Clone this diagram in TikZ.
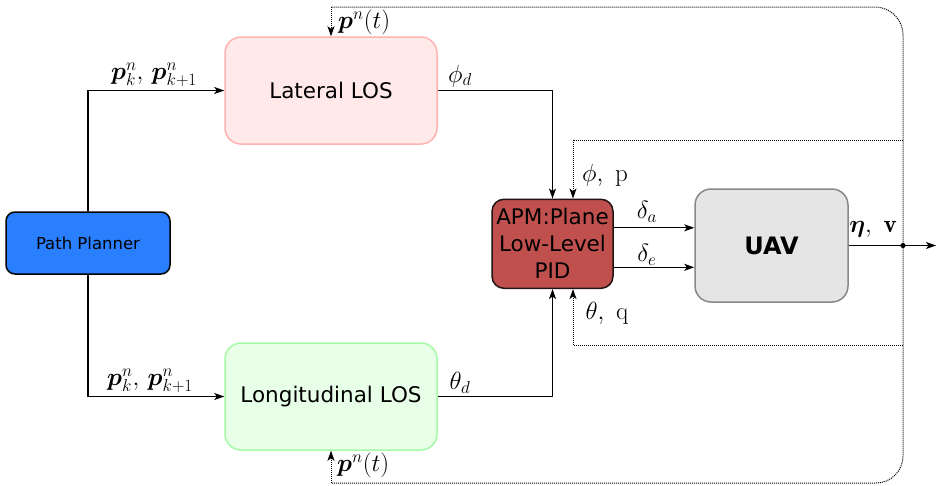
\documentclass[tikz,border=0pt]{standalone}
\usepackage{fontspec}
\newfontfamily\dejavu{DejaVu Sans}
\usepackage{bm}
\usetikzlibrary{arrows.meta}

\definecolor{ppblue}{RGB}{42,127,255}
\definecolor{latfill}{RGB}{255,233,233}
\definecolor{latdraw}{RGB}{255,178,178}
\definecolor{lonfill}{RGB}{232,255,232}
\definecolor{londraw}{RGB}{165,250,165}
\definecolor{apmfill}{RGB}{192,80,77}
\definecolor{apmdraw}{RGB}{35,20,20}
\definecolor{uavfill}{RGB}{229,229,229}
\definecolor{uavdraw}{RGB}{136,136,136}

\begin{document}
\begin{tikzpicture}[x=1pt,y=-1pt,
  block/.style={draw, line width=1.5pt, inner sep=0pt, align=center,
    font=\dejavu\fontsize{21.5}{27}\selectfont},
  lbl/.style={inner sep=0pt, font=\fontsize{25}{29}\selectfont},
  arr/.style={line width=1.2pt, -{Stealth[length=10pt,width=7pt,inset=2.5pt]}},
  fb/.style={line width=1pt, densely dotted},
  fbarr/.style={fb, -{Stealth[length=10pt,width=7pt,inset=2.5pt]}}]
\useasboundingbox (0,0) rectangle (937,485);

% blocks
\node[block, fill=ppblue, draw=black, rounded corners=9pt,
  minimum width=164pt, minimum height=62pt,
  font=\dejavu\fontsize{16.5}{20}\selectfont] (pp) at (88,243) {Path Planner};
\node[block, fill=latfill, draw=latdraw, rounded corners=16pt,
  minimum width=212pt, minimum height=107pt] (lat) at (331,90.5) {Lateral LOS};
\node[block, fill=lonfill, draw=londraw, rounded corners=16pt,
  minimum width=212pt, minimum height=107pt] (lon) at (331,396.5) {Longitudinal LOS};
\node[block, fill=apmfill, draw=apmdraw, rounded corners=12pt,
  minimum width=121pt, minimum height=89pt] (apm) at (552.5,243.8)
  {APM:Plane\\Low-Level\\PID};
\node[block, fill=uavfill, draw=uavdraw, rounded corners=16pt,
  minimum width=153pt, minimum height=113pt,
  font=\dejavu\bfseries\fontsize{24}{28}\selectfont] (uav) at (771.5,245.5) {UAV};

% helper rows
\coordinate (ytop) at (0,7);
\coordinate (ybot) at (0,483);
\coordinate (yin1) at (0,140);
\coordinate (yin2) at (0,345);
\coordinate (dot) at (903,245.5);
\coordinate (out) at (936,245.5);

% forward signals
\draw[arr] (pp.north) |- (lat.west);
\draw[arr] (pp.south) |- (lon.west);
\draw[arr] (lat.east) -| (apm.north);
\draw[arr] (lon.east) -| (apm.south);
\draw[arr] ([yshift=16pt]apm.east) -- ([yshift=16pt]apm.east -| uav.west);
\draw[arr] ([yshift=-23.5pt]apm.east) -- ([yshift=-23.5pt]apm.east -| uav.west);
\draw[arr] (uav.east) -- (out);
\fill (dot) circle[radius=2.6];

% feedback paths
\coordinate (ftop) at (lat.north |- ytop);
\coordinate (fbot) at (lon.south |- ybot);
\draw[fb, rounded corners=28pt] (dot) |- (ftop);
\draw[fbarr] (ftop) -- (lat.north);
\draw[fb, rounded corners=27pt] (dot) |- (fbot);
\draw[fbarr] (fbot) -- (lon.south);
\coordinate (i1) at (dot |- yin1);
\coordinate (i2) at (dot |- yin2);
\draw[fbarr] (i1) -| ([xshift=20.5pt]apm.north);
\draw[fbarr] (i2) -| ([xshift=20.5pt]apm.south);

% signal labels
\node[lbl, anchor=west] (lp1) at (338,22) {$\bm{p}^n(t)$};
\node[lbl, anchor=west] (lp2) at (337,465) {$\bm{p}^n(t)$};
\node[lbl] (lpk1) at (154,75) {$\bm{p}_k^n,\, \bm{p}_{k+1}^n$};
\node[lbl] (lpk2) at (150,381) {$\bm{p}_k^n,\, \bm{p}_{k+1}^n$};
\node[lbl] (lphd) at (460,76) {$\phi_d$};
\node[lbl] (lthd) at (460,383) {$\theta_d$};
\node[lbl] (lphp) at (605,175) {$\phi,\ \mathrm{p}$};
\node[lbl] (lthq) at (607,313) {$\theta,\ \mathrm{q}$};
\node[lbl] (lda) at (647,212) {$\delta_a$};
\node[lbl] (lde) at (647,255) {$\delta_e$};
\node[lbl] (leta) at (873,229) {$\bm{\eta},\ \mathbf{v}$};
\end{tikzpicture}
\end{document}
